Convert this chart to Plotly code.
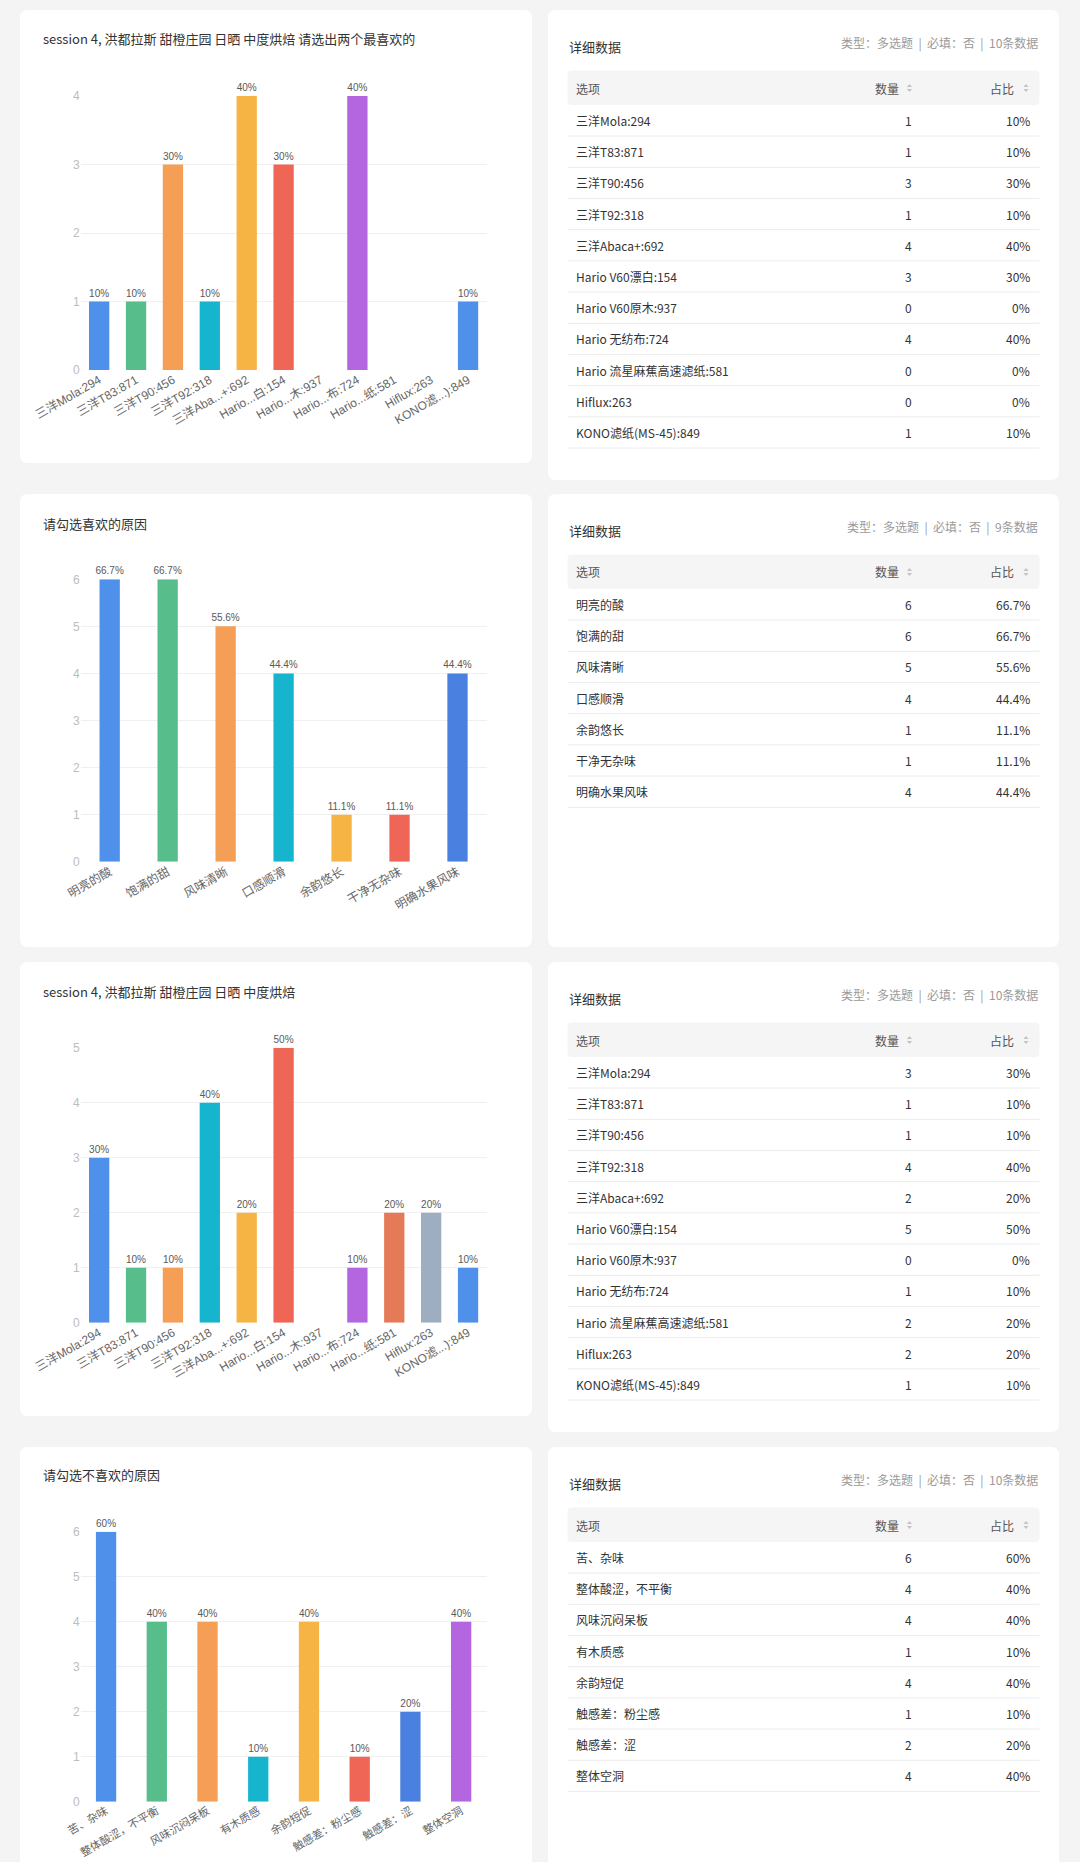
import plotly.graph_objects as go

W, H = 1080, 1862

# 滤纸选项（第一题、第三题共用）
filter_names = ['三洋Mola:294', '三洋T83:871', '三洋T90:456', '三洋T92:318', '三洋Abaca+:692',
                'Hario V60漂白:154', 'Hario V60原木:937', 'Hario 无纺布:724',
                'Hario 流星麻蕉高速滤纸:581', 'Hiflux:263', 'KONO滤纸(MS-45):849']
filter_ticks = ['三洋Mola:294', '三洋T83:871', '三洋T90:456', '三洋T92:318', '三洋Aba...+:692',
                'Hario...白:154', 'Hario...木:937', 'Hario...布:724', 'Hario...纸:581',
                'Hiflux:263', 'KONO滤...):849']

fav1_counts = [1, 1, 3, 1, 4, 3, 0, 4, 0, 0, 1]
fav1_pcts = ['10%', '10%', '30%', '10%', '40%', '30%', '0%', '40%', '0%', '0%', '10%']

like_names = ['明亮的酸', '饱满的甜', '风味清晰', '口感顺滑', '余韵悠长', '干净无杂味', '明确水果风味']
like_counts = [6, 6, 5, 4, 1, 1, 4]
like_pcts = ['66.7%', '66.7%', '55.6%', '44.4%', '11.1%', '11.1%', '44.4%']

fav2_counts = [3, 1, 1, 4, 2, 5, 0, 1, 2, 2, 1]
fav2_pcts = ['30%', '10%', '10%', '40%', '20%', '50%', '0%', '10%', '20%', '20%', '10%']

dislike_names = ['苦、杂味', '整体酸涩，不平衡', '风味沉闷呆板', '有木质感', '余韵短促',
                 '触感差：粉尘感', '触感差：涩', '整体空洞']
dislike_counts = [6, 4, 4, 1, 4, 1, 2, 4]
dislike_pcts = ['60%', '40%', '40%', '10%', '40%', '10%', '20%', '40%']

titles = ['session 4, 洪都拉斯 甜橙庄园 日晒 中度烘焙 请选出两个最喜欢的',
          '请勾选喜欢的原因',
          'session 4, 洪都拉斯 甜橙庄园 日晒 中度烘焙',
          '请勾选不喜欢的原因']
metas = ['类型：多选题  |  必填：否  |  10条数据',
         '类型：多选题  |  必填：否  |  9条数据',
         '类型：多选题  |  必填：否  |  10条数据',
         '类型：多选题  |  必填：否  |  10条数据']

palette = ['#4e90ea', '#57bd8a', '#f59e56', '#17b4cd', '#f5b444', '#ef6556',
           '#4a80df', '#b366e0', '#e47a58', '#9eaec1', '#4e90ea']

CJK = 'Noto Sans CJK SC'
AX = 'Arial, Liberation Sans, Noto Sans CJK SC'


def px(x):
    return x / W


def py(y):
    return 1 - y / H


def rounded(x0, y0, x1, y1, r):
    pts = [('M', x0 + r, y0), ('L', x1 - r, y0), ('Q', x1, y0, x1, y0 + r),
           ('L', x1, y1 - r), ('Q', x1, y1, x1 - r, y1), ('L', x0 + r, y1),
           ('Q', x0, y1, x0, y1 - r), ('L', x0, y0 + r), ('Q', x0, y0, x0 + r, y0)]
    s = ''
    for p in pts:
        cmd, vals = p[0], p[1:]
        coords = []
        for i in range(0, len(vals), 2):
            coords.append(f'{px(vals[i]):.5f},{py(vals[i + 1]):.5f}')
        s += cmd + ' '.join(coords) + ' '
    return s + 'Z'


fig = go.Figure()
shapes = []
annots = []

# 卡片背景
row_tops = [10, 494, 962, 1447]
left_bottoms = [463, 947, 1416, 1880]
right_bottoms = [480, 947, 1432, 1880]
for t, lb, rb in zip(row_tops, left_bottoms, right_bottoms):
    shapes.append(dict(type='path', path=rounded(20, t, 532, lb, 8), xref='paper', yref='paper',
                       fillcolor='white', line=dict(width=0), layer='below'))
    shapes.append(dict(type='path', path=rounded(548, t, 1059, rb, 8), xref='paper', yref='paper',
                       fillcolor='white', line=dict(width=0), layer='below'))

# 柱状图
charts = [
    (filter_ticks, fav1_counts, fav1_pcts, 370, 96, 4, 39, 12),
    (like_names, like_counts, like_pcts, 861.7, 579.3, 6, 523, 12),
    (filter_ticks, fav2_counts, fav2_pcts, 1322.7, 1047.7, 5, 991, 12),
    (dislike_names, dislike_counts, dislike_pcts, 1801.7, 1531.7, 6, 1474, 11),
]
plot_x0, plot_x1 = 80.7, 486.5
for k, (cats, vals, pcts, yb, yt, ymax, ty, fs) in enumerate(charts):
    n = len(cats)
    idx = '' if k == 0 else str(k + 1)
    spacing = (plot_x1 - plot_x0) / n
    fig.add_trace(go.Bar(
        x=cats, y=vals,
        text=[p if v > 0 else '' for p, v in zip(pcts, vals)],
        textposition='outside', cliponaxis=False, constraintext='none',
        textfont=dict(family=AX, size=10, color='#595959'),
        marker=dict(color=palette[:n], line=dict(width=0)),
        width=20.3 / spacing,
        xaxis='x' + idx, yaxis='y' + idx, hoverinfo='skip', showlegend=False))
    fig.layout['xaxis' + idx] = dict(
        domain=[px(plot_x0), px(plot_x1)], anchor='y' + idx, type='category',
        tickangle=-30, tickfont=dict(family=AX, size=fs, color='#666'), automargin=False,
        showgrid=False, zeroline=False, showline=False, ticks='', fixedrange=True)
    fig.layout['yaxis' + idx] = dict(
        domain=[py(yb), py(yt)], anchor='x' + idx, range=[0, ymax], dtick=1, automargin=False,
        tickfont=dict(family=AX, size=12, color='#bdbdbd'), gridcolor='#f0f0f0',
        gridwidth=1, zeroline=False, showline=False, ticks='', fixedrange=True)
    annots.append(dict(text=titles[k], x=px(40.6), y=py(ty), xref='paper', yref='paper',
                       xanchor='left', yanchor='middle', showarrow=False,
                       font=dict(family=CJK, size=13, color='#333')))

# 详细数据表
tables = [
    (filter_names, fav1_counts, fav1_pcts),
    (like_names, like_counts, like_pcts),
    (filter_names, fav2_counts, fav2_pcts),
    (dislike_names, dislike_counts, dislike_pcts),
]
tx0, tx1 = 567.5, 1039.5
row_h = 31.2


def sort_icon(cx, cy):
    up = [(cx - 2.6, cy - 1), (cx + 2.6, cy - 1), (cx, cy - 4)]
    dn = [(cx - 2.6, cy + 1), (cx + 2.6, cy + 1), (cx, cy + 4)]
    out = []
    for tri in (up, dn):
        path = 'M' + ' L'.join(f'{px(a):.5f},{py(b):.5f}' for a, b in tri) + ' Z'
        out.append(dict(type='path', path=path, xref='paper', yref='paper',
                        fillcolor='#c4c4c4', line=dict(width=0)))
    return out


for k, (names, counts, pcts) in enumerate(tables):
    t = row_tops[k]
    annots.append(dict(text='详细数据', x=px(tx0), y=py(t + 36.5), xref='paper', yref='paper',
                       xanchor='left', yanchor='middle', showarrow=False,
                       font=dict(family=CJK, size=13, color='#333')))
    annots.append(dict(text=metas[k], x=px(tx1), y=py(t + 33), xref='paper', yref='paper',
                       xanchor='right', yanchor='middle', showarrow=False,
                       font=dict(family=CJK, size=12, color='#9a9a9a')))
    shapes.append(dict(type='path', path=rounded(tx0, t + 60.5, tx1, t + 95, 4), xref='paper',
                       yref='paper', fillcolor='#f5f5f5', line=dict(width=0)))
    hy = t + 78
    for txt, x, anc in [('选项', 574.4, 'left'), ('数量', 901, 'right'), ('占比', 1016, 'right')]:
        annots.append(dict(text=txt, x=px(x), y=py(hy), xref='paper', yref='paper',
                           xanchor=anc, yanchor='middle', showarrow=False,
                           font=dict(family=CJK, size=12, color='#555')))
    shapes += sort_icon(909.5, hy)
    shapes += sort_icon(1026, hy)
    for i, (nm, c, p) in enumerate(zip(names, counts, pcts)):
        cy = t + 110.5 + i * row_h
        for txt, x, anc in [(nm, 574.4, 'left'), (str(c), 913.5, 'right'), (p, 1031.7, 'right')]:
            annots.append(dict(text=txt, x=px(x), y=py(cy), xref='paper', yref='paper',
                               xanchor=anc, yanchor='middle', showarrow=False,
                               font=dict(family=CJK, size=12, color='#333')))
        ly = cy + row_h / 2
        shapes.append(dict(type='line', x0=px(tx0), x1=px(tx1), y0=py(ly), y1=py(ly),
                           xref='paper', yref='paper', line=dict(color='#ececec', width=1)))

fig.update_layout(
    width=W, height=H, margin=dict(l=0, r=0, t=0, b=0, autoexpand=False),
    paper_bgcolor='#f4f4f4', plot_bgcolor='rgba(0,0,0,0)',
    shapes=shapes, annotations=annots, showlegend=False,
    font=dict(family=CJK))

fig.write_html("out.html", config={'displayModeBar': False},
               post_script="document.body.style.margin='0';document.body.style.overflow='hidden';")
